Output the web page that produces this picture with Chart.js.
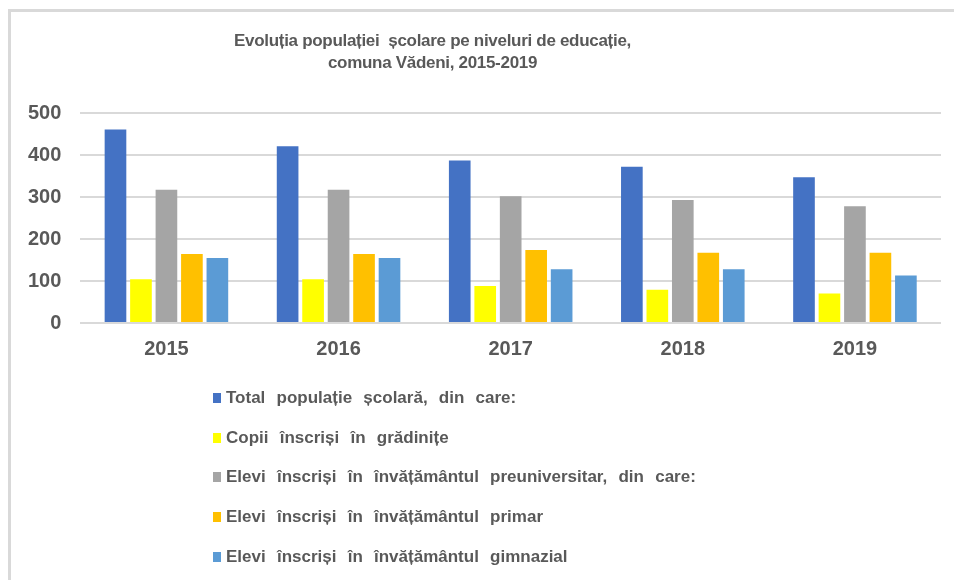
<!DOCTYPE html>
<html>
<head>
<meta charset="utf-8">
<script src="https://cdn.jsdelivr.net/npm/chart.js@4/dist/chart.umd.min.js"></script>
<style>
    html, body { margin: 0; padding: 0; background: #fff; }
    body { width: 954px; height: 580px; position: relative; overflow: hidden; }
    .frame {
        position: absolute; left: 8px; top: 9px; right: -10px; bottom: -10px;
        border-left: 3px solid #d9d9d9; border-top: 3px solid #d9d9d9;
    }
    #wrap { position: absolute; left: 0; top: 0; width: 954px; height: 580px; }
    #title {
        position: absolute; left: 0; top: 30px; width: 865px; text-align: center;
        font-family: 'Liberation Sans', Arial, sans-serif; font-weight: bold;
        font-size: 17px; line-height: 22px; letter-spacing: -0.3px; color: #595959;
        white-space: pre;
    }
    #legend {
        position: absolute; left: 213px; top: 378px;
        font-family: 'Liberation Sans', Arial, sans-serif; font-weight: bold;
        font-size: 17px; color: #595959; word-spacing: 6.5px;
    }
    #legend .item { height: 39.8px; display: flex; align-items: center; }
    #legend .box { width: 8px; height: 10px; margin-right: 5px; }
</style>
</head>
<body>
<div class="frame"></div>
<div id="wrap"><canvas id="chart"></canvas></div>
<div id="title"></div>
<div id="legend"></div>
<script>
// ==================== DATA ====================
const titleLines = ['Evoluția populației  școlare pe niveluri de educație,', 'comuna Vădeni, 2015-2019'];

const years = ['2015', '2016', '2017', '2018', '2019'];

const seriesNames = [
    'Total populație școlară, din care:',
    'Copii înscriși în grădinițe',
    'Elevi înscriși în învățământul preuniversitar, din care:',
    'Elevi înscriși în învățământul primar',
    'Elevi înscriși în învățământul gimnazial'
];

const totalPop = [461, 421, 387, 372, 347];
const gradinite = [104, 104, 88, 79, 70];
const preuniversitar = [317, 317, 302, 293, 278];
const primar = [164, 164, 174, 167, 167];
const gimnazial = [155, 155, 128, 128, 113];

const yTicks = [0, 100, 200, 300, 400, 500];

const colors = ['#4472C4', '#FFFF00', '#A5A5A5', '#FFC000', '#5B9BD5'];

// ==================== CHART ====================
const seriesValues = [totalPop, gradinite, preuniversitar, primar, gimnazial];
const fontFamily = "'Liberation Sans', Arial, sans-serif";
const textColor = '#595959';

document.getElementById('title').textContent = titleLines.join('\n');

const ctx = document.getElementById('chart').getContext('2d');
const chart = new Chart(ctx, {
    type: 'bar',
    data: {
        labels: years,
        datasets: seriesNames.map((name, i) => ({
            label: name,
            data: seriesValues[i],
            backgroundColor: colors[i],
            borderWidth: 0,
            categoryPercentage: 0.74,
            barPercentage: 0.85
        }))
    },
    options: {
        responsive: true,
        maintainAspectRatio: false,
        animation: false,
        layout: { padding: { left: 9, right: 13, top: 113, bottom: 205 } },
        plugins: {
            legend: { display: false },
            tooltip: { enabled: false },
            title: { display: false }
        },
        scales: {
            x: {
                grid: { display: false, drawTicks: false },
                border: { display: false },
                ticks: {
                    color: textColor,
                    padding: 14,
                    font: { family: fontFamily, size: 20, weight: 'bold' }
                }
            },
            y: {
                min: 0,
                max: yTicks[yTicks.length - 1],
                afterBuildTicks: axis => { axis.ticks = yTicks.map(v => ({ value: v })); },
                grid: { color: '#d9d9d9', lineWidth: 2, drawTicks: false },
                border: { display: false },
                ticks: {
                    color: textColor,
                    padding: 19,
                    font: { family: fontFamily, size: 20, weight: 'bold' }
                }
            }
        }
    }
});

// ==================== LEGEND ====================
const legendEl = document.getElementById('legend');
seriesNames.forEach((name, i) => {
    const item = document.createElement('div');
    item.className = 'item';
    item.innerHTML = '<span class="box" style="background:' + colors[i] + '"></span><span>' + name + '</span>';
    legendEl.appendChild(item);
});
</script>
</body>
</html>
